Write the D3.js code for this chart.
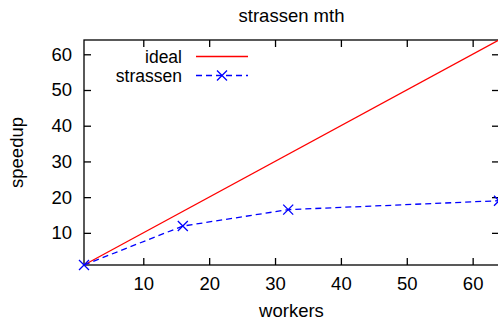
<!DOCTYPE html>
<html>
<head>
<meta charset="utf-8">
<script src="https://cdn.jsdelivr.net/npm/d3@7"></script>
<style>
  html, body { margin: 0; padding: 0; background: #fff; }
  svg { display: block; }
  text { font-family: "Liberation Sans", Arial, Helvetica, sans-serif; fill: #000; }
</style>
</head>
<body>
<svg id="chart" width="498" height="327"></svg>
<script>
// Speedup of the strassen benchmark against worker count
const workers = [1, 16, 32, 64];
const strassenSpeedup = [1, 11.9, 16.5, 19.0];
const idealWorkers = [1, 64];
const idealSpeedup = [1, 64];
const xTicks = [10, 20, 30, 40, 50, 60];
const yTicks = [10, 20, 30, 40, 50, 60];

const W = 498, H = 327;
const margin = { left: 84, right: -1, top: 40, bottom: 62 };
const svg = d3.select("#chart");

const x = d3.scaleLinear().domain([1, 64]).range([margin.left, W - margin.right]);
const y = d3.scaleLinear().domain([1, 64]).range([H - margin.bottom, margin.top]);

const fs = 18.5;
const legendFs = 17.5;
const tickLen = 7;

// Plot border
svg.append("rect")
  .attr("x", x(1)).attr("y", y(64))
  .attr("width", x(64) - x(1)).attr("height", y(1) - y(64))
  .attr("fill", "none").attr("stroke", "#000").attr("stroke-width", 1.3);

// Axes with ticks pointing inward, mirrored on the opposite sides
const bottomAxis = d3.axisBottom(x).tickValues(xTicks).tickSize(-tickLen).tickPadding(12);
const leftAxis = d3.axisLeft(y).tickValues(yTicks).tickSize(-tickLen).tickPadding(12);
const topAxis = d3.axisTop(x).tickValues(xTicks).tickSize(-tickLen).tickFormat("");
const rightAxis = d3.axisRight(y).tickValues(yTicks).tickSize(-tickLen).tickFormat("");

function style(g) {
  g.select(".domain").remove();
  g.selectAll(".tick line").attr("stroke", "#000").attr("stroke-width", 1.3);
  g.selectAll(".tick text").attr("font-size", fs).attr("font-family", "Liberation Sans, Arial, sans-serif").attr("fill", "#000");
}

svg.append("g").attr("transform", `translate(0,${y(1)})`).call(bottomAxis).call(style);
svg.append("g").attr("transform", `translate(${x(1)},0)`).call(leftAxis).call(style);
svg.append("g").attr("transform", `translate(0,${y(64)})`).call(topAxis).call(style);
svg.append("g").attr("transform", `translate(${x(64)},0)`).call(rightAxis).call(style);

// Ideal speedup line
const line = d3.line().x(d => x(d[0])).y(d => y(d[1]));
svg.append("path")
  .datum(d3.zip(idealWorkers, idealSpeedup))
  .attr("d", line)
  .attr("fill", "none").attr("stroke", "#ff0000").attr("stroke-width", 1.3);

// Measured strassen speedup
const pts = d3.zip(workers, strassenSpeedup);
svg.append("path")
  .datum(pts)
  .attr("d", line)
  .attr("fill", "none").attr("stroke", "#0000ff").attr("stroke-width", 1.3)
  .attr("stroke-dasharray", "6,4");

function cross(g, cx, cy, r) {
  g.append("path")
    .attr("d", `M${cx - r},${cy - r}L${cx + r},${cy + r}M${cx - r},${cy + r}L${cx + r},${cy - r}`)
    .attr("stroke", "#0000ff").attr("stroke-width", 1.3).attr("fill", "none");
}
const marks = svg.append("g");
pts.forEach(d => cross(marks, x(d[0]), y(d[1]), 5));

// Legend
const legend = svg.append("g");
const lx = 182, sx0 = 196, sx1 = 248;
const rows = [
  { label: "ideal", color: "#ff0000", dash: null, mark: false, yy: 56.5 },
  { label: "strassen", color: "#0000ff", dash: "6,4", mark: true, yy: 75.5 }
];
rows.forEach(r => {
  legend.append("text").attr("x", lx).attr("y", r.yy).attr("dy", "0.35em")
    .attr("text-anchor", "end").attr("font-size", legendFs).text(r.label);
  legend.append("line").attr("x1", sx0).attr("x2", sx1).attr("y1", r.yy).attr("y2", r.yy)
    .attr("stroke", r.color).attr("stroke-width", 1.3)
    .attr("stroke-dasharray", r.dash);
  if (r.mark) cross(legend, (sx0 + sx1) / 2, r.yy, 5);
});

// Title and axis labels
svg.append("text").attr("x", (x(1) + x(64)) / 2).attr("y", 21.5)
  .attr("text-anchor", "middle").attr("font-size", fs).text("strassen mth");
svg.append("text").attr("x", (x(1) + x(64)) / 2).attr("y", 316.5)
  .attr("text-anchor", "middle").attr("font-size", fs).text("workers");
svg.append("text")
  .attr("transform", `translate(23,${(y(1) + y(64)) / 2}) rotate(-90)`)
  .attr("text-anchor", "middle").attr("font-size", fs).text("speedup");
</script>
</body>
</html>
